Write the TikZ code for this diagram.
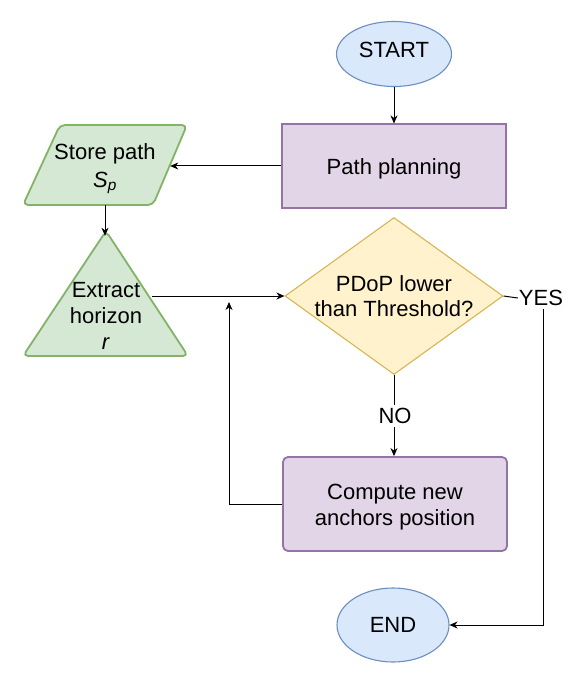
\documentclass[tikz,border=0pt]{standalone}
\usepackage{fontspec}
\setmainfont{Liberation Sans}
\usetikzlibrary{shapes.geometric,arrows.meta}
\definecolor{blueF}{HTML}{DAE8FC}
\definecolor{blueD}{HTML}{6C8EBF}
\definecolor{greenF}{HTML}{D5E8D4}
\definecolor{greenD}{HTML}{82B366}
\definecolor{purpF}{HTML}{E1D5E7}
\definecolor{purpD}{HTML}{9673A6}
\definecolor{yelF}{HTML}{FFF2CC}
\definecolor{yelD}{HTML}{D6B656}
\tikzset{
  txt/.style={align=center, inner sep=0pt},
  ghost/.style={rectangle, inner sep=0pt, align=center},
  bluebox/.style={ellipse, draw=blueD, fill=blueF, line width=1.1pt, inner sep=0pt},
  greenshape/.style={draw=greenD, fill=greenF, line width=1.8pt, rounded corners=5pt, line join=round},
  purpbox/.style={rectangle, draw=purpD, fill=purpF, align=center, inner sep=0pt},
  yelbox/.style={diamond, draw=yelD, fill=yelF, line width=1.1pt, inner sep=0pt},
  arr/.style={-{Stealth[length=8pt,width=7pt,inset=2.5pt]}, line width=1pt, black},
  plain/.style={line width=1pt, black},
  lbl/.style={fill=white, inner xsep=1pt, inner ysep=3pt}
}
\begin{document}
\begin{tikzpicture}[x=1pt,y=-1pt, font=\fontsize{22}{25.7}\selectfont]
\useasboundingbox (0,0) rectangle (581,676);

% START
\node[bluebox, minimum width=115, minimum height=65] (start) at (394,54) {};
\node[txt] (starttxt) at (394,50) {START};

% Path planning
\node[purpbox, line width=1.1pt, minimum width=224, minimum height=84] (pp) at (394,166) {};
\node[txt] (pptxt) at (394,169) {Path planning};

% Store path (parallelogram)
\draw[greenshape] (60,125) -- (187,125) -- (153,205) -- (23,205) -- cycle;
\node[ghost, minimum width=130, minimum height=80] (store) at (105,165) {};
\node[txt] (storetxt) at (105,169) {Store path\\[2pt]\textit{S}\textsubscript{\textit{p}}};

% Extract horizon (triangle)
\draw[greenshape] (106,231) -- (188,356) -- (23,356) -- cycle;
\node[ghost, minimum width=92, minimum height=120] (tri) at (106,296) {};
\node[txt] (tritxt) at (106,316) {Extract\\horizon\\\textit{r}};

% Decision diamond
\node[yelbox, minimum width=218, minimum height=157] (dec) at (394,296) {};
\node[txt] (dectxt) at (394,296) {PDoP lower\\than Threshold?};

% Compute new anchors
\node[purpbox, line width=1.8pt, rounded corners=5pt, minimum width=224, minimum height=94] (comp) at (395,504) {};
\node[txt] (comptxt) at (395,507) {Compute new\\anchors position};

% END
\node[bluebox, minimum width=112, minimum height=74] (end) at (393,625) {};
\node[txt] (endtxt) at (393,625) {END};

% labels
\node[lbl] (yes) at (541,298) {YES};
\node[lbl] (no) at (395,416) {NO};
\coordinate (loopend) at (229,302);

% connectors
\draw[arr] (start.south) -- (pp.north);
\draw[arr] (pp.west) -- (pp.west -| store.east);
\draw[arr] (store.south) -- (store.south |- tri.north);
\draw[arr] (tri.east) -- (dec.west);
\draw[plain] (dec.east) -- (yes.west);
\draw[arr] (yes.south -| 543,0) |- (end.east);
\draw[plain] (dec.south) -- (dec.south |- no.north);
\draw[arr] (dec.south |- no.south) -- (dec.south |- comp.north);
\draw[arr] (comp.west) -| (loopend);
\end{tikzpicture}
\end{document}
